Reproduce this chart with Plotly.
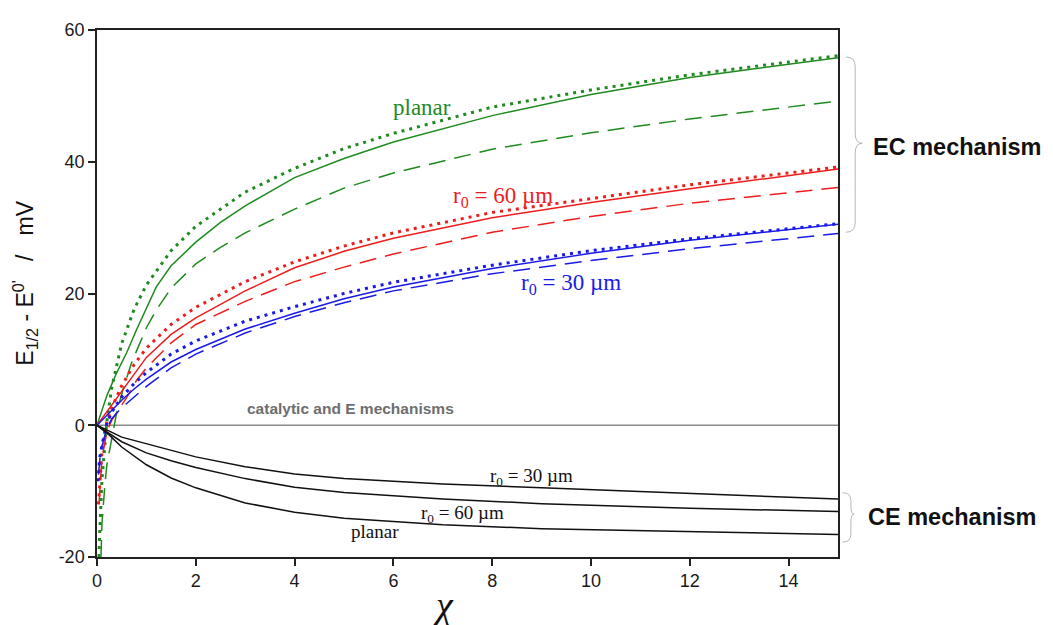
import plotly.graph_objects as go

# ---------------- data ----------------
# EC mechanism, planar
chi_pl_dot = [0.04, 0.05, 0.1, 0.2, 0.3, 0.5, 0.75, 1, 1.5, 2, 3, 4, 5, 6, 8, 10, 12, 15]
pl_dot = [-20, -17.3, -8.3, 0.6, 5.8, 12.4, 17.6, 21.3, 26.5, 30.2, 35.4, 39.0, 42.0, 44.3, 48.3, 50.9, 53.2, 56.1]
chi_pl_sol = [0, 0.2, 0.4, 0.6, 0.8, 1.0, 1.2, 1.5, 2, 2.5, 3, 4, 5, 6, 8, 10, 12, 15]
pl_sol = [0, 4.5, 8.0, 11.0, 14.5, 17.8, 21.0, 24.2, 27.8, 30.8, 33.3, 37.6, 40.5, 43.0, 47.0, 50.2, 52.8, 55.8]
chi_pl_das = [0.08, 0.1, 0.16, 0.2, 0.3, 0.4, 0.53, 0.7, 0.87, 1.0, 1.2, 1.5, 2, 2.5, 3, 3.7, 4, 5, 6, 8, 10, 12, 15]
pl_das = [-20, -15, -9, -6, -2, 2, 5.5, 9.5, 12.5, 14.8, 17.5, 20.8, 24.5, 27.0, 29.2, 31.7, 32.8, 36.0, 38.3, 41.9, 44.4, 46.5, 49.2]

# EC mechanism, r0 = 60 um
chi_60_dot = [0.03, 0.055, 0.1, 0.2, 0.32, 0.5, 0.75, 1, 1.5, 2, 3, 4, 5, 6, 8, 10, 12, 15]
r60_dot = [-12, -8.5, -4, 0.5, 3, 6, 9.2, 11.7, 15.3, 17.9, 21.8, 24.8, 27.2, 29.2, 32.3, 34.4, 36.5, 39.2]
chi_60_sol = [0, 0.25, 0.5, 0.75, 1, 1.5, 2, 3, 4, 5, 6, 8, 10, 12, 15]
r60_sol = [0, 2.6, 5.2, 7.8, 10.3, 13.8, 16.3, 20.4, 23.9, 26.4, 28.4, 31.5, 33.8, 35.9, 38.9]
chi_60_das = [0.04, 0.07, 0.1, 0.2, 0.3, 0.45, 0.6, 0.8, 1, 1.5, 2, 3, 4, 5, 6, 8, 10, 12, 15]
r60_das = [-12, -7.5, -5, -1, 0.8, 2.5, 4.2, 6.8, 8.7, 12.5, 15.3, 18.8, 21.8, 24.0, 26.0, 29.3, 31.7, 33.7, 36.1]

# EC mechanism, r0 = 30 um
chi_30_dot = [0.02, 0.05, 0.1, 0.2, 0.3, 0.5, 0.75, 1, 1.5, 2, 3, 4, 5, 6, 8, 10, 12, 15]
r30_dot = [-8.5, -5.2, -3, 0.3, 2, 4.3, 6.3, 8.0, 10.8, 12.8, 15.8, 18.0, 20.0, 21.7, 24.3, 26.5, 28.3, 30.6]
chi_30_sol = [0, 0.25, 0.5, 0.75, 1, 1.5, 2, 3, 4, 5, 6, 8, 10, 12, 15]
r30_sol = [0, 1.9, 3.8, 5.5, 7.0, 9.6, 11.5, 14.6, 17.0, 19.2, 21.0, 23.8, 26.1, 28.1, 30.5]
chi_30_das = [0.03, 0.06, 0.1, 0.2, 0.3, 0.45, 0.6, 0.87, 1, 1.5, 2, 3, 4, 5, 6, 8, 10, 12, 15]
r30_das = [-7.5, -5, -3.2, -0.5, 1.0, 2.3, 3.3, 5.0, 5.9, 8.7, 10.8, 14.0, 16.5, 18.6, 20.4, 23.0, 25.0, 26.8, 29.1]

# CE mechanism
chi_ce = [0, 0.1, 0.25, 0.5, 1, 1.5, 2, 3, 4, 5, 7, 9, 12, 15]
ce_planar = [0, -0.6, -1.5, -3.3, -6.0, -8.0, -9.5, -11.8, -13.2, -14.1, -15.1, -15.7, -16.2, -16.6]
ce_60 = [0, -0.5, -1.2, -2.5, -4.2, -5.4, -6.4, -8.1, -9.4, -10.2, -11.2, -11.9, -12.6, -13.1]
ce_30 = [0, -0.4, -0.9, -1.8, -2.8, -3.9, -4.8, -6.3, -7.4, -8.1, -8.9, -9.5, -10.4, -11.2]

# catalytic and E mechanisms
chi_cat = [0, 15]
cat = [0, 0]

x_ticks = [0, 2, 4, 6, 8, 10, 12, 14]
y_ticks = [-20, 0, 20, 40, 60]

# ---------------- styles ----------------
GREEN = "#1f8a1f"
RED = "#ee1d1d"
BLUE = "#1a1ae6"
DOT = "3px,5px"
DASH = "17px,9px"

fig = go.Figure()

def add(x, y, color, dash, width):
    fig.add_trace(go.Scatter(x=x, y=y, mode="lines", line=dict(color=color, dash=dash, width=width),
                             showlegend=False, hoverinfo="skip", cliponaxis=True))

add(chi_cat, cat, "#8c8c8c", "solid", 1.6)
add(chi_pl_sol, pl_sol, GREEN, "solid", 1.5)
add(chi_pl_das, pl_das, GREEN, DASH, 1.5)
add(chi_pl_dot, pl_dot, GREEN, DOT, 3)
add(chi_60_sol, r60_sol, RED, "solid", 1.5)
add(chi_60_das, r60_das, RED, DASH, 1.5)
add(chi_60_dot, r60_dot, RED, DOT, 3)
add(chi_30_sol, r30_sol, BLUE, "solid", 1.5)
add(chi_30_das, r30_das, BLUE, DASH, 1.5)
add(chi_30_dot, r30_dot, BLUE, DOT, 3)
add(chi_ce, ce_planar, "#111111", "solid", 1.5)
add(chi_ce, ce_60, "#111111", "solid", 1.5)
add(chi_ce, ce_30, "#111111", "solid", 1.5)

SERIF = "Liberation Serif, Times New Roman, serif"
SANS = "Liberation Sans, Arial, sans-serif"

def label(x, y, text, color, size, family=SERIF, xref="x", yref="y", xanchor="center", **kw):
    fig.add_annotation(x=x, y=y, xref=xref, yref=yref, text=text, showarrow=False,
                       font=dict(family=family, size=size, color=color),
                       xanchor=xanchor, yanchor="middle", **kw)

label(6.57, 48.3, "planar", GREEN, 23)
label(8.22, 34.6, "r<sub>0</sub> = 60 µm", RED, 23)
label(9.59, 21.4, "r<sub>0</sub> = 30 µm", BLUE, 23)
label(5.13, 2.6, "<b>catalytic and E mechanisms</b>", "#6e6e6e", 15.5, family=SANS)
label(8.8, -7.8, "r<sub>0</sub> = 30 µm", "#111111", 19)
label(7.4, -13.4, "r<sub>0</sub> = 60 µm", "#111111", 19)
label(5.62, -16.1, "planar", "#111111", 19)
label(1.045, 42.3, "<b>EC mechanism</b>", "#111111", 23.5, family=SANS, xref="paper", xanchor="left")
label(1.038, -14.0, "<b>CE mechanism</b>", "#111111", 23.5, family=SANS, xref="paper", xanchor="left")

# axis titles
label(7.0, -0.092, "<i>χ</i>", "#111111", 38, family=SERIF, yref="paper")
label(-0.0975, 0.52, "E<sub>1/2</sub> - E<sup>0'</sup>\u00a0\u00a0\u00a0/\u00a0\u00a0\u00a0mV", "#111111", 23,
      family=SANS, xref="paper", yref="paper", textangle=-90)

def brace(x0, x1, x2, ytop, ymid, ybot, d):
    return (f"M {x0},{ytop} Q {x1},{ytop} {x1},{ytop - d} L {x1},{ymid + d} "
            f"Q {x1},{ymid} {x2},{ymid} Q {x1},{ymid} {x1},{ymid - d} "
            f"L {x1},{ybot + d} Q {x1},{ybot} {x0},{ybot}")

fig.add_shape(type="path", xref="paper", yref="y",
              path=brace(1.0107, 1.0232, 1.0327, 55.9, 42.8, 29.3, 1.5),
              line=dict(color="#b5b5b5", width=1))
fig.add_shape(type="path", xref="paper", yref="y",
              path=brace(1.0061, 1.0174, 1.0218, -10.24, -13.48, -17.74, 1.2),
              line=dict(color="#b5b5b5", width=1))

axis_common = dict(showgrid=False, zeroline=False, showline=True, linecolor="#222222", linewidth=1.5,
                   mirror=True, ticks="outside", ticklen=7, tickwidth=1.5, tickcolor="#222222",
                   tickfont=dict(family=SANS, size=18, color="#1a1a1a"))

# page body has an 8px margin: size the figure so the plot area lands where the reference has it
fig.update_layout(
    width=1045, height=617,
    margin=dict(l=89, r=215, t=16, b=68),
    paper_bgcolor="white", plot_bgcolor="white",
    xaxis=dict(range=[0, 15], tickvals=x_ticks, ticktext=[str(v) for v in x_ticks], **axis_common),
    yaxis=dict(range=[-20, 60], tickvals=y_ticks, ticktext=[str(v) for v in y_ticks], **axis_common),
)

fig.write_html("out.html")
